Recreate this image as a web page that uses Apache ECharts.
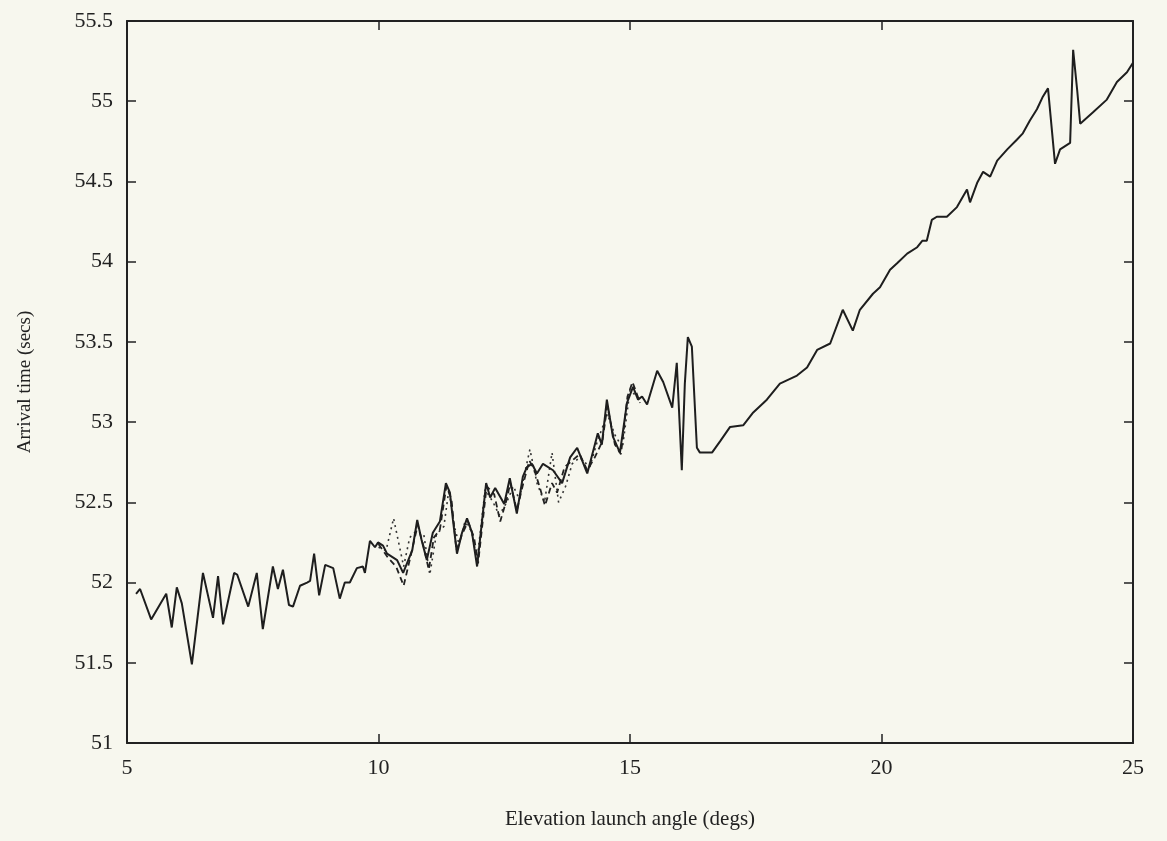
<!DOCTYPE html>
<html>
<head>
<meta charset="utf-8">
<script src="https://cdn.jsdelivr.net/npm/echarts@6/dist/echarts.min.js"></script>
<style>
html,body{margin:0;padding:0;background:#f7f7ee;}
#chart{width:1167px;height:841px;}
</style>
</head>
<body>
<div id="chart"></div>
<script>
// Solid series: [elevation angle (deg), arrival time (s)]
const solidSeries = [
[5.18,51.93],[5.26,51.96],[5.48,51.77],[5.78,51.93],[5.89,51.72],[5.99,51.97],[6.09,51.87],[6.29,51.49],
[6.51,52.06],[6.71,51.78],[6.81,52.04],[6.91,51.74],[7.13,52.06],[7.19,52.05],[7.41,51.85],[7.58,52.06],
[7.70,51.71],[7.90,52.10],[8.00,51.96],[8.10,52.08],[8.22,51.86],[8.30,51.85],[8.44,51.98],[8.58,52.00],
[8.64,52.01],[8.72,52.18],[8.82,51.92],[8.94,52.11],[9.10,52.09],[9.23,51.90],[9.33,52.00],[9.43,52.00],
[9.57,52.09],[9.69,52.10],[9.73,52.06],[9.83,52.26],[9.93,52.22],[9.99,52.25],[10.09,52.23],[10.17,52.18],
[10.37,52.14],[10.49,52.06],[10.67,52.20],[10.77,52.39],[10.86,52.26],[10.96,52.14],[11.08,52.31],[11.22,52.38],
[11.34,52.62],[11.42,52.56],[11.48,52.39],[11.56,52.18],[11.66,52.31],[11.76,52.40],[11.86,52.31],[11.96,52.10],
[12.14,52.62],[12.22,52.53],[12.32,52.59],[12.50,52.49],[12.61,52.65],[12.75,52.43],[12.87,52.66],[12.95,52.72],
[13.05,52.74],[13.15,52.68],[13.27,52.74],[13.47,52.70],[13.65,52.62],[13.81,52.78],[13.95,52.84],[14.15,52.68],
[14.26,52.81],[14.36,52.93],[14.44,52.86],[14.54,53.14],[14.66,52.91],[14.80,52.81],[14.94,53.12],[15.06,53.22],
[15.16,53.14],[15.24,53.16],[15.34,53.11],[15.54,53.32],[15.66,53.25],[15.84,53.09],[15.93,53.37],[16.03,52.70],
[16.09,53.24],[16.15,53.53],[16.23,53.47],[16.33,52.84],[16.39,52.81],[16.63,52.81],[16.79,52.88],[16.99,52.97],
[17.25,52.98],[17.45,53.06],[17.72,53.14],[17.98,53.24],[18.32,53.29],[18.52,53.34],[18.72,53.45],[18.98,53.49],
[19.23,53.70],[19.43,53.57],[19.57,53.70],[19.83,53.80],[19.97,53.84],[20.17,53.95],[20.31,53.99],[20.51,54.05],
[20.71,54.09],[20.81,54.13],[20.90,54.13],[21.00,54.26],[21.10,54.28],[21.30,54.28],[21.50,54.34],[21.70,54.45],
[21.76,54.37],[21.90,54.49],[22.02,54.56],[22.16,54.53],[22.30,54.63],[22.50,54.70],[22.69,54.76],[22.81,54.80],
[22.95,54.88],[23.09,54.95],[23.21,55.03],[23.31,55.08],[23.45,54.61],[23.55,54.70],[23.75,54.74],[23.81,55.32],
[23.89,55.07],[23.95,54.86],[24.20,54.93],[24.48,55.01],[24.68,55.12],[24.88,55.18],[25.00,55.24]
];

const dashedSeries = [
[10.00,52.24],[10.20,52.15],[10.35,52.10],[10.50,51.98],[10.65,52.18],[10.78,52.36],[10.90,52.22],[11.00,52.08],
[11.10,52.28],[11.22,52.33],[11.35,52.60],[11.45,52.52],[11.55,52.20],[11.66,52.30],[11.78,52.38],[11.90,52.28],
[11.98,52.12],[12.15,52.60],[12.30,52.55],[12.42,52.38],[12.55,52.52],[12.62,52.62],[12.75,52.45],[12.88,52.62],
[13.00,52.76],[13.10,52.70],[13.20,52.60],[13.31,52.48],[13.45,52.62],[13.55,52.56],[13.70,52.72],[13.85,52.76],
[14.00,52.80],[14.15,52.70],[14.30,52.78],[14.45,52.88],[14.55,53.10],[14.70,52.86],[14.82,52.80],[14.95,53.16],
[15.05,53.25],[15.20,53.12]
];

const dottedSeries = [
[10.00,52.22],[10.15,52.20],[10.30,52.40],[10.40,52.25],[10.50,52.10],[10.62,52.28],[10.75,52.32],[10.90,52.30],
[11.02,52.05],[11.15,52.30],[11.30,52.35],[11.40,52.58],[11.50,52.36],[11.60,52.24],[11.72,52.38],[11.85,52.32],
[11.96,52.14],[12.12,52.58],[12.28,52.50],[12.40,52.42],[12.55,52.50],[12.68,52.60],[12.80,52.52],[12.92,52.70],
[13.01,52.83],[13.15,52.62],[13.30,52.50],[13.45,52.81],[13.58,52.50],[13.72,52.60],[13.85,52.74],[14.00,52.78],
[14.20,52.72],[14.35,52.88],[14.55,53.05],[14.70,52.92],[14.85,52.84],[15.00,53.20],[15.20,53.14]
];

const xTicks = {min: 5, max: 25, interval: 5};
const yTicks = {min: 51, max: 55.5, interval: 0.5};
const xTitle = 'Elevation launch angle (degs)';
const yTitle = 'Arrival time (secs)';

const ink = '#222';
const font = 'Liberation Serif';
const chart = echarts.init(document.getElementById('chart'));

const baseX = {
  type: 'value', min: xTicks.min, max: xTicks.max, interval: xTicks.interval,
  axisLine: {show: true, onZero: false, lineStyle: {color: ink, width: 2}},
  axisTick: {show: true, inside: true, length: 9, lineStyle: {color: ink, width: 1.5}},
  splitLine: {show: false}
};
const baseY = {
  type: 'value', min: yTicks.min, max: yTicks.max, interval: yTicks.interval,
  axisLine: {show: true, onZero: false, lineStyle: {color: ink, width: 2}},
  axisTick: {show: true, inside: true, length: 9, lineStyle: {color: ink, width: 1.5}},
  splitLine: {show: false}
};

chart.setOption({
  backgroundColor: '#f7f7ee',
  animation: false,
  grid: {left: 127, right: 34, top: 21, bottom: 98, containLabel: false},
  xAxis: [
    Object.assign({}, baseX, {
      position: 'bottom',
      name: xTitle, nameLocation: 'middle', nameGap: 66,
      nameTextStyle: {fontFamily: font, fontSize: 21, color: ink},
      axisLabel: {show: true, margin: 14, fontFamily: font, fontSize: 22, color: ink}
    }),
    Object.assign({}, baseX, {position: 'top', axisLabel: {show: false}})
  ],
  yAxis: [
    Object.assign({}, baseY, {
      position: 'left',
      name: yTitle, nameLocation: 'middle', nameGap: 92, nameRotate: 90,
      nameTextStyle: {fontFamily: font, fontSize: 19, color: ink},
      axisLabel: {show: true, margin: 14, fontFamily: font, fontSize: 22, color: ink,
        formatter: v => String(Math.round(v * 10) / 10)}
    }),
    Object.assign({}, baseY, {position: 'right', axisLabel: {show: false}})
  ],
  series: [
    {type: 'line', data: dottedSeries, symbol: 'none', xAxisIndex: 0, yAxisIndex: 0,
     lineStyle: {color: '#333', width: 1.6, type: [2, 4]}},
    {type: 'line', data: dashedSeries, symbol: 'none', xAxisIndex: 0, yAxisIndex: 0,
     lineStyle: {color: '#222', width: 1.8, type: [6, 4]}},
    {type: 'line', data: solidSeries, symbol: 'none', xAxisIndex: 0, yAxisIndex: 0,
     lineStyle: {color: '#1e1e1e', width: 2}}
  ]
});
</script>
</body>
</html>
